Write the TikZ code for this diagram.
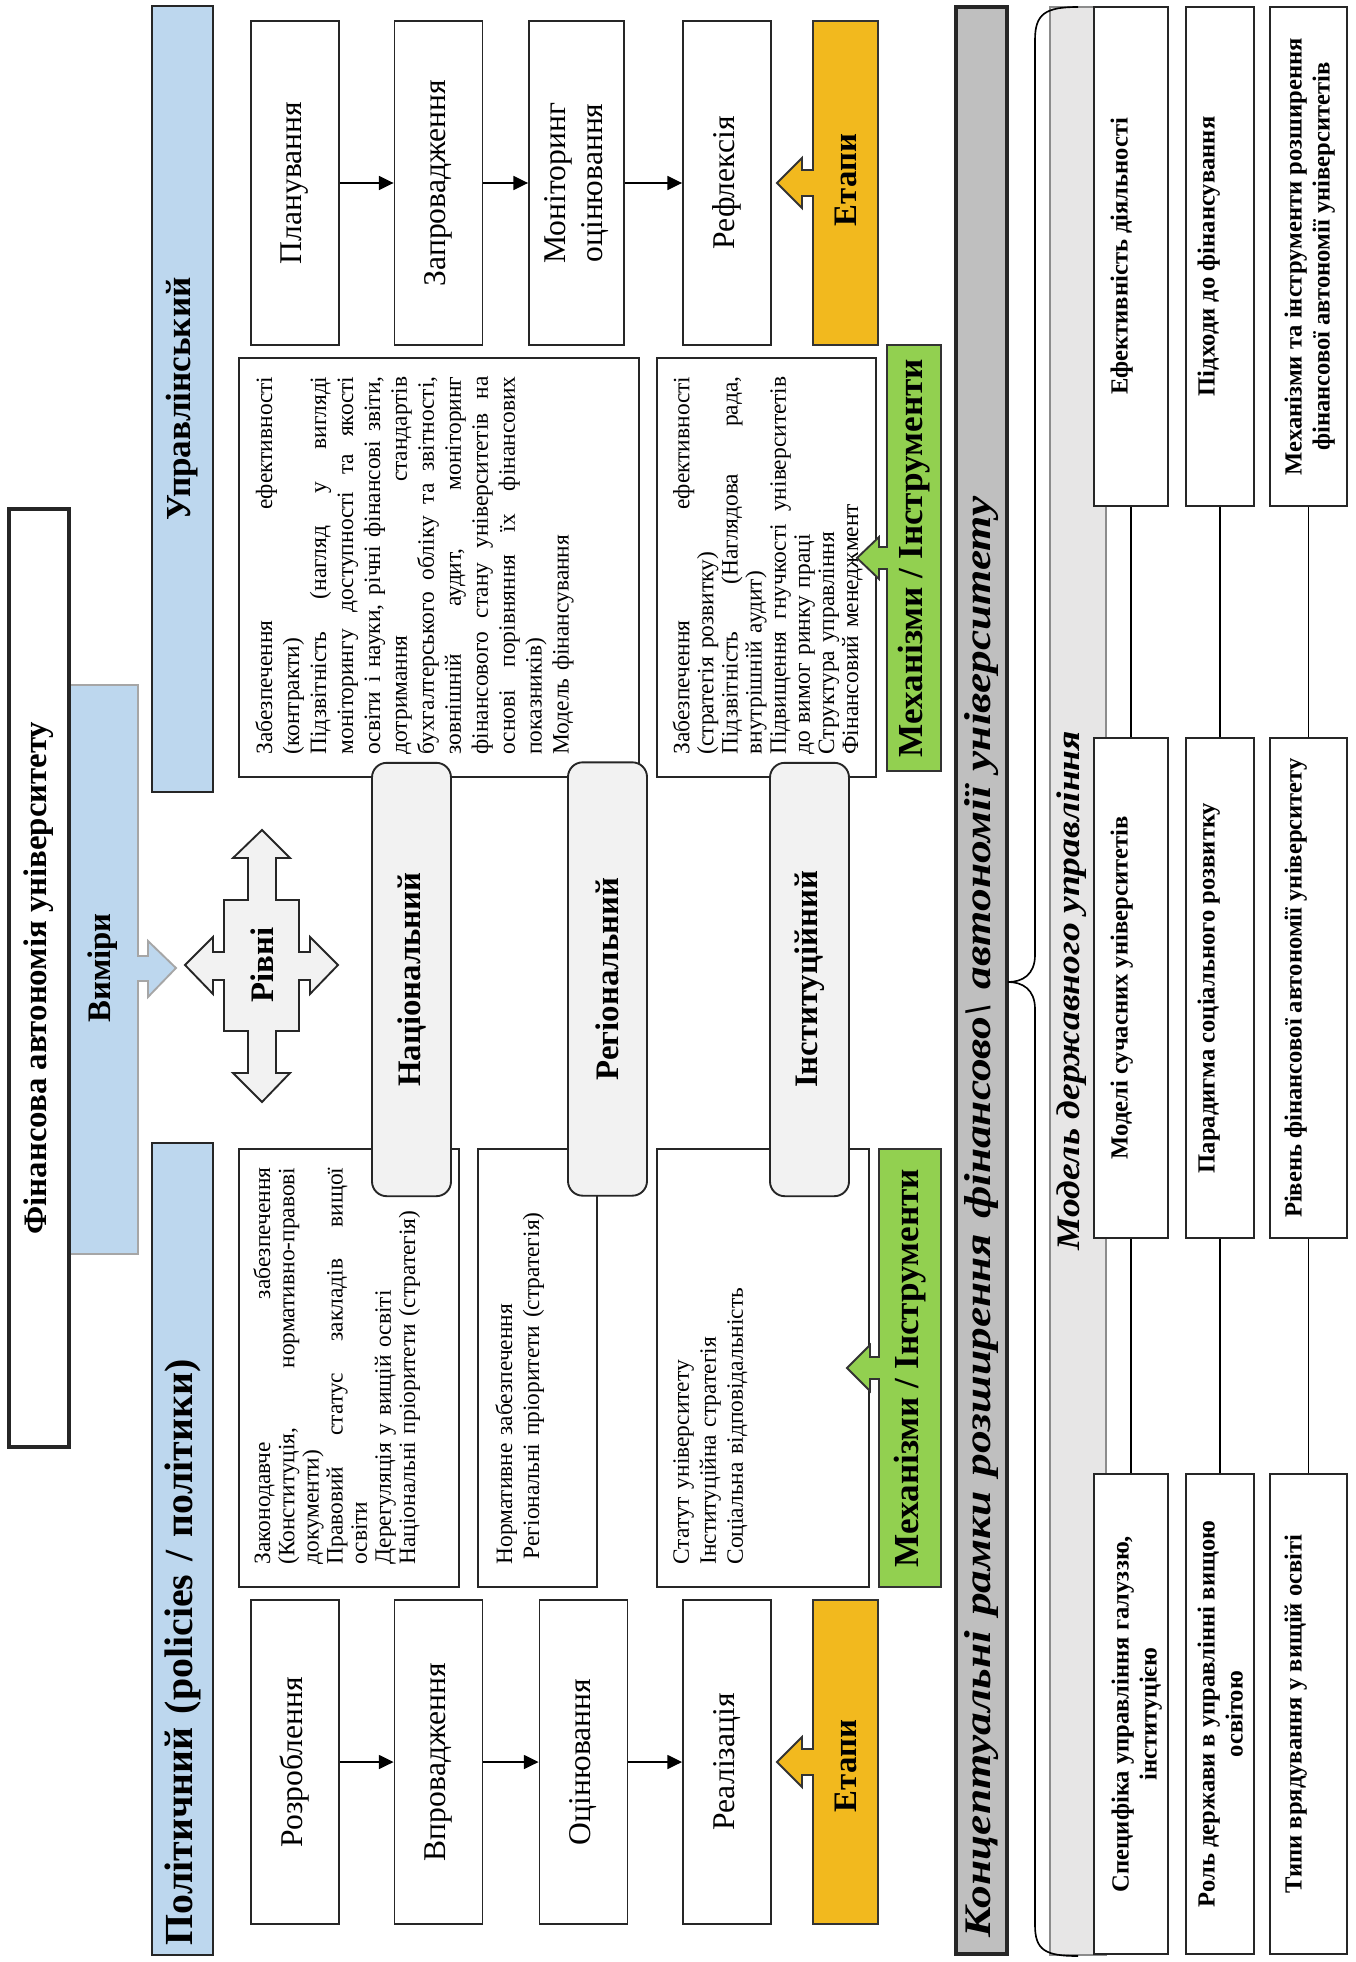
\documentclass[tikz,border=0pt]{standalone}
\usepackage{fontspec}
\setmainfont{Liberation Serif}
\usetikzlibrary{arrows.meta}

\definecolor{dimblue}{HTML}{BDD7EE}
\definecolor{stageorange}{HTML}{F2B91E}
\definecolor{mechgreen}{HTML}{92D050}
\definecolor{levelgray}{HTML}{F2F2F2}
\definecolor{framegray}{HTML}{BFBFBF}
\definecolor{modelgray}{HTML}{E7E6E6}

\newcommand{\jline}[2][5.67cm]{{\spaceskip=0.25em plus 1fil\makebox[#1][s]{#2}}}

\begin{document}
\begin{tikzpicture}[
    x=0.015cm, y=-0.015cm,
    every node/.style={rotate=90},
    framebox/.style={draw=black!85, line width=0.8pt, fill=white, inner sep=0pt},
    dimbox/.style={framebox, fill=dimblue, font=\fontsize{17}{19}\bfseries},
    stagebox/.style={framebox, minimum width=4.86cm, minimum height=1.32cm,
      font=\fontsize{13.5}{15.5}\selectfont},
    levelbox/.style={framebox, fill=levelgray, rounded corners=0.22cm,
      minimum width=6.5cm, minimum height=1.185cm, font=\fontsize{14}{16}\bfseries},
    mechtext/.style={inner sep=0pt, anchor=north west, text width=5.67cm, align=left,
      font=\fontsize{10}{11.5}\selectfont},
    factor/.style={framebox},
    factortext/.style={inner sep=0pt, anchor=north, align=center,
      font=\fontsize{10.5}{12}\bfseries},
    boldlabel/.style={inner sep=0pt, font=\fontsize{14}{16}\bfseries},
    stagearrow/.style={-{Triangle[length=0.22cm,width=0.21cm]}, line width=0.6pt},
  ]
  \useasboundingbox (0,0) rectangle (1356,1962);

  \draw [fill=dimblue, draw=black!35, line width=0.8pt]
    (69,685)
    -- (138,685)
    -- (138,956)
    -- ++(10,0)
    -- ++(0,-15)
    -- ++(28,27)
    -- ++(-28,29)
    -- ++(0,-16)
    -- ++(-10,0)
    -- (138,1254)
    -- (69,1254)
    -- cycle
  ;
  \node [boldlabel] (vymiry) at (103,968) {Виміри};
  \node [framebox, line width=1.8pt, minimum width=14.07cm, minimum height=0.9cm,
    font=\fontsize{14}{16}\bfseries] (title) at (39,978) {Фінансова автономія університету};

  \node [dimbox, minimum width=12.18cm, minimum height=0.915cm, text width=11.88cm,
    align=left] (polit) at (182.5,1549) {Політичний (policies / політики)};
  \node [dimbox, minimum width=11.79cm, minimum height=0.915cm,
    font=\fontsize{15}{17}\bfseries] (uprav) at (182.5,399) {Управлінський};

  \draw [fill=levelgray, draw=black!85, line width=0.8pt]
    (262,830)
    -- ++(28,28) -- ++(-14,0) -- ++(0,42) -- ++(23,0) -- ++(0,52)
    -- ++(11,0) -- ++(0,-15) -- ++(28,28) -- ++(-28,29) -- ++(0,-14)
    -- ++(-11,0) -- ++(0,51) -- ++(-23,0) -- ++(0,42) -- ++(14,0)
    -- ++(-28,29) -- ++(-29,-29) -- ++(15,0) -- ++(0,-42) -- ++(-24,0)
    -- ++(0,-51) -- ++(-11,0) -- ++(0,14) -- ++(-28,-29) -- ++(28,-28)
    -- ++(0,15) -- ++(11,0) -- ++(0,-52) -- ++(24,0) -- ++(0,-42)
    -- ++(-15,0)
    -- cycle
  ;
  \node [boldlabel] (rivni) at (262,965) {Рівні};

  \node [stagebox] (rozr) at (295,1762) {Розроблення};
  \node [stagebox] (vprov) at (438.5,1762) {Впровадження};
  \node [stagebox] (otsin) at (583.5,1762) {Оцінювання};
  \node [stagebox] (realiz) at (727,1762) {Реалізація};
  \draw [stagearrow] (rozr) -- (vprov);
  \draw [stagearrow] (vprov) -- (otsin);
  \draw [stagearrow] (otsin) -- (realiz);

  \node [stagebox] (plan) at (295,183) {Планування};
  \node [stagebox] (zapr) at (438.5,183) {Запровадження};
  \node [stagebox, minimum height=1.425cm, align=center] (monit) at (576.5,183) {Моніторинг\\оцінювання};
  \node [stagebox] (refl) at (727,183) {Рефлексія};
  \draw [stagearrow] (plan) -- (zapr);
  \draw [stagearrow] (zapr) -- (monit);
  \draw [stagearrow] (monit) -- (refl);

  \draw [fill=stageorange, draw=black!80, line width=0.8pt]
    (878,1600)
    -- (878,1924)
    -- (813,1924)
    -- (813,1775)
    -- ++(-11,0)
    -- ++(0,12)
    -- ++(-25,-25)
    -- ++(25,-25)
    -- ++(0,12)
    -- ++(11,0)
    -- (813,1600)
    -- cycle
  ;
  \node [boldlabel] (etapyL) at (845.5,1766) {Етапи};
  \draw [fill=stageorange, draw=black!80, line width=0.8pt]
    (878,21)
    -- (878,345)
    -- (813,345)
    -- (813,196)
    -- ++(-11,0)
    -- ++(0,12)
    -- ++(-25,-25)
    -- ++(25,-25)
    -- ++(0,12)
    -- ++(11,0)
    -- (813,21)
    -- cycle
  ;
  \node [boldlabel] (etapyR) at (845.5,180) {Етапи};

  \node [framebox, minimum width=6.57cm, minimum height=3.30cm] (lmechA) at (349,1368) {};
  \node [framebox, minimum width=6.57cm, minimum height=1.785cm] (lmechB) at (537.5,1368) {};
  \node [framebox, minimum width=6.57cm, minimum height=3.18cm] (lmechC) at (763,1368) {};
  \node [framebox, minimum width=6.285cm, minimum height=6.0cm] (rmechA) at (439,567.5) {};
  \node [framebox, minimum width=6.285cm, minimum height=3.285cm] (rmechB) at (766.5,567.5) {};

  \node [mechtext, text width=5.955cm, font=\fontsize{10}{10.3}\selectfont] (lmechAtext) at (253,1565)
    {\jline[5.955cm]{Законодавче забезпечення}\\
     \jline[5.955cm]{(Конституція, нормативно-правові}\\
     документи)\\
     \jline[5.955cm]{Правовий статус закладів вищої}\\
     освіти\\
     Дерегуляція у вищій освіті\\
     Національні пріоритети (стратегія)};
  \node [mechtext] (lmechBtext) at (495,1565)
    {Нормативне забезпечення\\
     \hspace*{0.08cm}Регіональні пріоритети (стратегія)};
  \node [mechtext] (lmechCtext) at (673,1565)
    {Статут університету\\
     Інституційна стратегія\\
     Соціальна відповідальність};
  \node [mechtext] (rmechAtext) at (255,755)
    {\jline{Забезпечення ефективності}\\
     (контракти)\\
     \jline{Підзвітність (нагляд у вигляді}\\
     \jline{моніторингу доступності та якості}\\
     \jline{освіти і науки, річні фінансові звіти,}\\
     \jline{дотримання стандартів}\\
     \jline{бухгалтерського обліку та звітності,}\\
     \jline{зовнішній аудит, моніторинг}\\
     \jline{фінансового стану університетів на}\\
     \jline{основі порівняння їх фінансових}\\
     показників)\\
     Модель фінансування};
  \node [mechtext, font=\fontsize{10}{10.3}\selectfont] (rmechBtext) at (672,755)
    {\jline{Забезпечення ефективності}\\
     (стратегія розвитку)\\
     \jline{Підзвітність (Наглядова рада,}\\
     внутрішній аудит)\\
     \jline{Підвищення гнучкості університетів}\\
     до вимог ринку праці\\
     Структура управління\\
     Фінансовий менеджмент};

  \node [levelbox] (natsion) at (411.5,979.5) {Національний};
  \node [levelbox] (rehion) at (607.5,979) {Регіональний};
  \node [levelbox] (instyt) at (809.5,979.5) {Інституційний};

  \draw [fill=mechgreen, draw=black!80, line width=0.8pt]
    (941,1149)
    -- (941,1587)
    -- (879,1587)
    -- (879,1379)
    -- ++(-9,0)
    -- ++(0,12)
    -- ++(-23,-23)
    -- ++(23,-23)
    -- ++(0,12)
    -- ++(9,0)
    -- (879,1149)
    -- cycle
  ;
  \node [boldlabel, font=\fontsize{15}{17}\bfseries] (mekhL) at (910,1368) {Механізми / Інструменти};
  \draw [fill=mechgreen, draw=black!80, line width=0.8pt]
    (941,345)
    -- (941,771)
    -- (887,771)
    -- (887,569)
    -- ++(-8,0)
    -- ++(0,10)
    -- ++(-22,-21)
    -- ++(22,-21)
    -- ++(0,10)
    -- ++(8,0)
    -- (887,345)
    -- cycle
  ;
  \node [boldlabel, font=\fontsize{15}{17}\bfseries] (mekhR) at (914,558) {Механізми / Інструменти};

  \node [framebox, line width=1.4pt, fill=framegray, minimum width=29.2cm, minimum height=0.765cm,
    text width=28.7cm, align=left, font=\fontsize{16}{18}\bfseries\itshape] (ramky) at (981.5,980.5)
    {\scalebox{1.21}[1]{Концептуальні рамки розширення фінансово\textbackslash{} автономії університету}};

  \node [framebox, draw=black!45, fill=modelgray, minimum width=29.22cm, minimum height=0.84cm] (modelbar) at (1078,981) {};
  \node [inner sep=0pt, anchor=west, font=\fontsize{14}{16}\bfseries\itshape] (modeltext) at (1072,1251)
    {\scalebox{1.145}[1]{Модель державного управління}};
  \draw [line width=0.7pt]
    (1078,7)
    .. controls (1045,7) and (1035,14) .. (1035,40)
    -- (1035,955)
    .. controls (1035,975) and (1022,982) .. (1008,982)
    .. controls (1022,982) and (1035,989) .. (1035,1009)
    -- (1035,1925)
    .. controls (1035,1950) and (1045,1956) .. (1078,1956)
  ;

  \node [factor, minimum width=7.485cm, minimum height=1.11cm] (efekt) at (1131,256.5) {};
  \node [factor, minimum width=7.5cm, minimum height=1.11cm] (modeli) at (1131,988) {};
  \node [factor, minimum width=7.2cm, minimum height=1.11cm] (spetsyf) at (1131,1714) {};
  \node [factor, minimum width=7.485cm, minimum height=1.02cm] (pidkhody) at (1220,256.5) {};
  \node [factor, minimum width=7.5cm, minimum height=1.02cm] (paradyhma) at (1220,988) {};
  \node [factor, minimum width=7.2cm, minimum height=1.02cm] (rol) at (1220,1714) {};
  \node [factor, minimum width=7.485cm, minimum height=1.155cm] (mekhanizmy) at (1308.5,256.5) {};
  \node [factor, minimum width=7.5cm, minimum height=1.155cm] (riven) at (1308.5,988) {};
  \node [factor, minimum width=7.2cm, minimum height=1.155cm] (typy) at (1308.5,1714) {};
  \draw [line width=0.7pt] (spetsyf) -- (modeli) -- (efekt);
  \draw [line width=0.7pt] (rol) -- (paradyhma) -- (pidkhody);
  \draw [line width=0.7pt] (typy) -- (riven) -- (mekhanizmy);

  \node [factortext] (efektT) at (1110,256.5) {Ефективність діяльності};
  \node [factortext] (modeliT) at (1110,988) {Моделі сучасних університетів};
  \node [factortext] (spetsyfT) at (1111,1714) {Специфіка управління галуззю,\\інституцією};
  \node [factortext] (pidkhodyT) at (1197,256.5) {Підходи до фінансування};
  \node [factortext] (paradyhmaT) at (1197,988) {Парадигма соціального розвитку};
  \node [factortext] (rolT) at (1197,1714) {Роль держави в управлінні вищою\\освітою};
  \node [factortext] (mekhanizmyT) at (1284,256.5) {Механізми та інструменти розширення\\фінансової автономії університетів};
  \node [factortext] (rivenT) at (1284,988) {Рівень фінансової автономії університету};
  \node [factortext] (typyT) at (1284,1714) {Типи врядування у вищій освіті};
\end{tikzpicture}
\end{document}
